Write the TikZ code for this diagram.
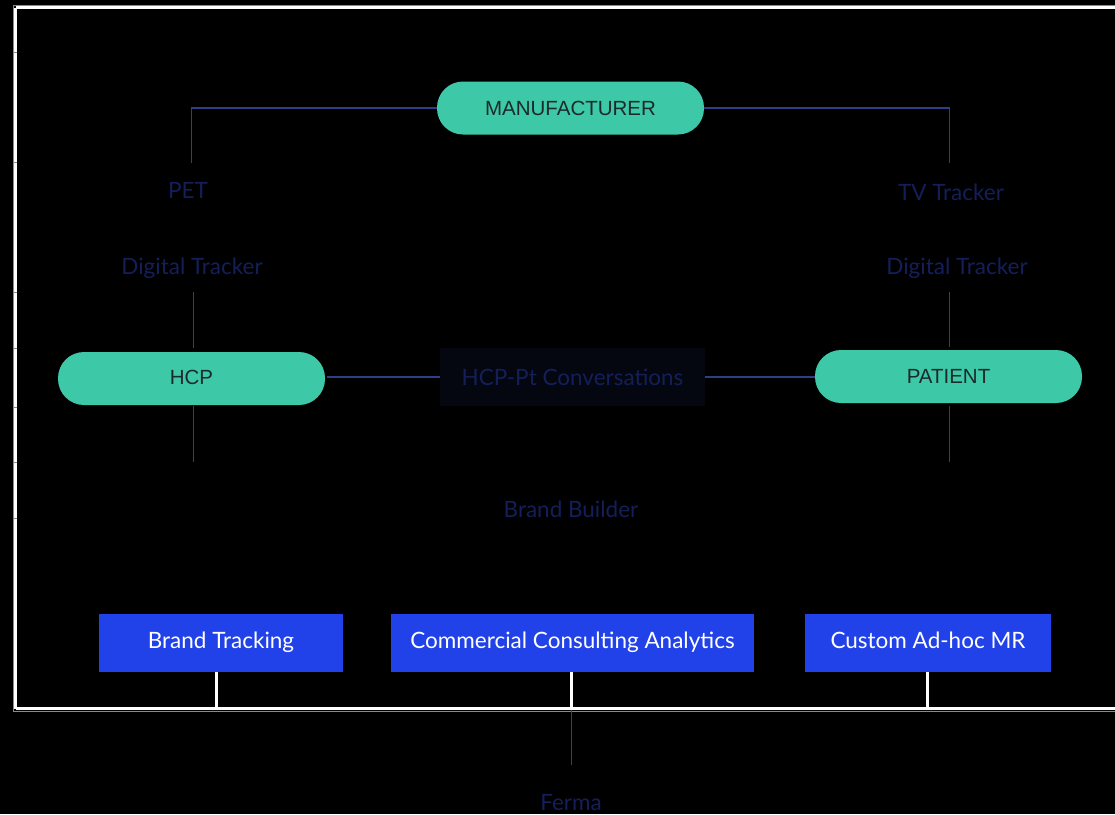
\documentclass[tikz,border=0pt]{standalone}
\usepackage{fontspec}
\setmainfont{Lato}
\newfontfamily\pillfont{Liberation Sans}
\definecolor{pillteal}{HTML}{3DC8A8}
\definecolor{pilltext}{HTML}{1C2B2A}
\definecolor{boxblue}{HTML}{2142E8}
\definecolor{dimtext}{HTML}{141F5A}
\definecolor{connblue}{HTML}{2E3F85}
\definecolor{convfill}{HTML}{04070F}
\definecolor{framegray}{HTML}{8A8A8A}
\tikzset{
  pill/.style={rectangle, rounded corners=26pt, fill=pillteal, text=pilltext,
    minimum width=267pt, minimum height=53pt, inner sep=0pt, text height=14.5pt, text depth=0pt,
    font=\pillfont\fontsize{20.5}{24}\selectfont},
  svcbox/.style={rectangle, fill=boxblue, text=white, minimum height=58pt, inner sep=0pt,
    text height=16pt, text depth=5pt, font=\fontsize{22.5}{26}\selectfont},
  dimlabel/.style={text=dimtext, inner sep=0pt, text height=16pt, text depth=0pt,
    font=\fontsize{22.5}{26}\selectfont},
  conn/.style={draw=connblue, line width=1.3pt},
  wconn/.style={draw=white, line width=3pt},
}
\begin{document}
\begin{tikzpicture}[x=1pt,y=-1pt]
\fill[black] (0,0) rectangle (1115,814);
\useasboundingbox (0,0) rectangle (1115,814);
% frame
\draw[framegray, line width=1pt] (14,5) -- (1125,5);
\draw[white, line width=3pt] (15.5,7.5) -- (1125,7.5);
\draw[white, line width=3pt] (15.5,7.5) -- (15.5,708.5);
\draw[white, line width=3pt] (15.5,708.5) -- (1125,708.5);
\draw[framegray, line width=1pt] (13,5) -- (13,711);
\draw[framegray, line width=1pt] (13,711) -- (1125,711);
\foreach \ty in {52,162,292,348,407,462,518} \draw[framegray, line width=0.8pt] (13,\ty) -- (17,\ty);

% nodes
\node[pill] (man) at (570.5,108) {MANUFACTURER};
\node[pill, text depth=2pt] (hcp) at (191.5,378.5) {HCP};
\node[pill] (pat) at (948.5,376.5) {PATIENT};
\node[rectangle, fill=convfill, minimum width=265pt, minimum height=58pt, inner sep=0pt,
  text=dimtext, text height=16pt, text depth=0pt, font=\fontsize{22.5}{26}\selectfont] (conv) at (572.5,377) {HCP-Pt Conversations};

\node[dimlabel] (pet) at (188,190) {PET};
\node[dimlabel] (tv) at (951,192) {TV Tracker};
\node[dimlabel] (dtl) at (192,266) {Digital Tracker};
\node[dimlabel] (dtr) at (957,266) {Digital Tracker};
\node[dimlabel] (bb) at (571,509) {Brand Builder};
\node[dimlabel] (ferma) at (571,802) {Ferma};

\node[svcbox, minimum width=244pt] (bt) at (221,643) {Brand Tracking};
\node[svcbox, minimum width=363pt] (cca) at (572.5,643) {Commercial Consulting Analytics};
\node[svcbox, minimum width=246pt] (cam) at (928,643) {Custom Ad-hoc MR};

% coordinates
\coordinate (ltop) at (191.5,163);
\coordinate (rtop) at (949.5,163);
\coordinate (la) at (193.5,292);
\coordinate (lb) at (193.5,462);
\coordinate (ra) at (949.5,292);
\coordinate (rb) at (949.5,462);
\coordinate (wb1) at (216.5,708);
\coordinate (wb2) at (571.5,708);
\coordinate (wb3) at (927.5,708);
\coordinate (fa) at (571.5,710);
\coordinate (fb) at (571.5,765);

% connectors
\draw[conn] (man.west) -| (ltop);
\draw[conn] (man.east) -| (rtop);
\draw[conn] (la) -- ([yshift=4pt]la |- hcp.north);
\draw[conn] ([yshift=-1pt]lb |- hcp.south) -- (lb);
\draw[conn] (ra) -- ([yshift=3pt]ra |- pat.north);
\draw[conn] ([yshift=-3pt]rb |- pat.south) -- (rb);
\draw[conn] ([xshift=2pt]hcp.east |- conv.west) -- (conv.west);
\draw[conn] (conv.east) -- (conv.east -| pat.west);
\draw[wconn] (wb1 |- bt.south) -- (wb1);
\draw[wconn] (wb2 |- cca.south) -- (wb2);
\draw[wconn] (wb3 |- cam.south) -- (wb3);
\draw[conn] (fa) -- (fb);
\end{tikzpicture}
\end{document}
